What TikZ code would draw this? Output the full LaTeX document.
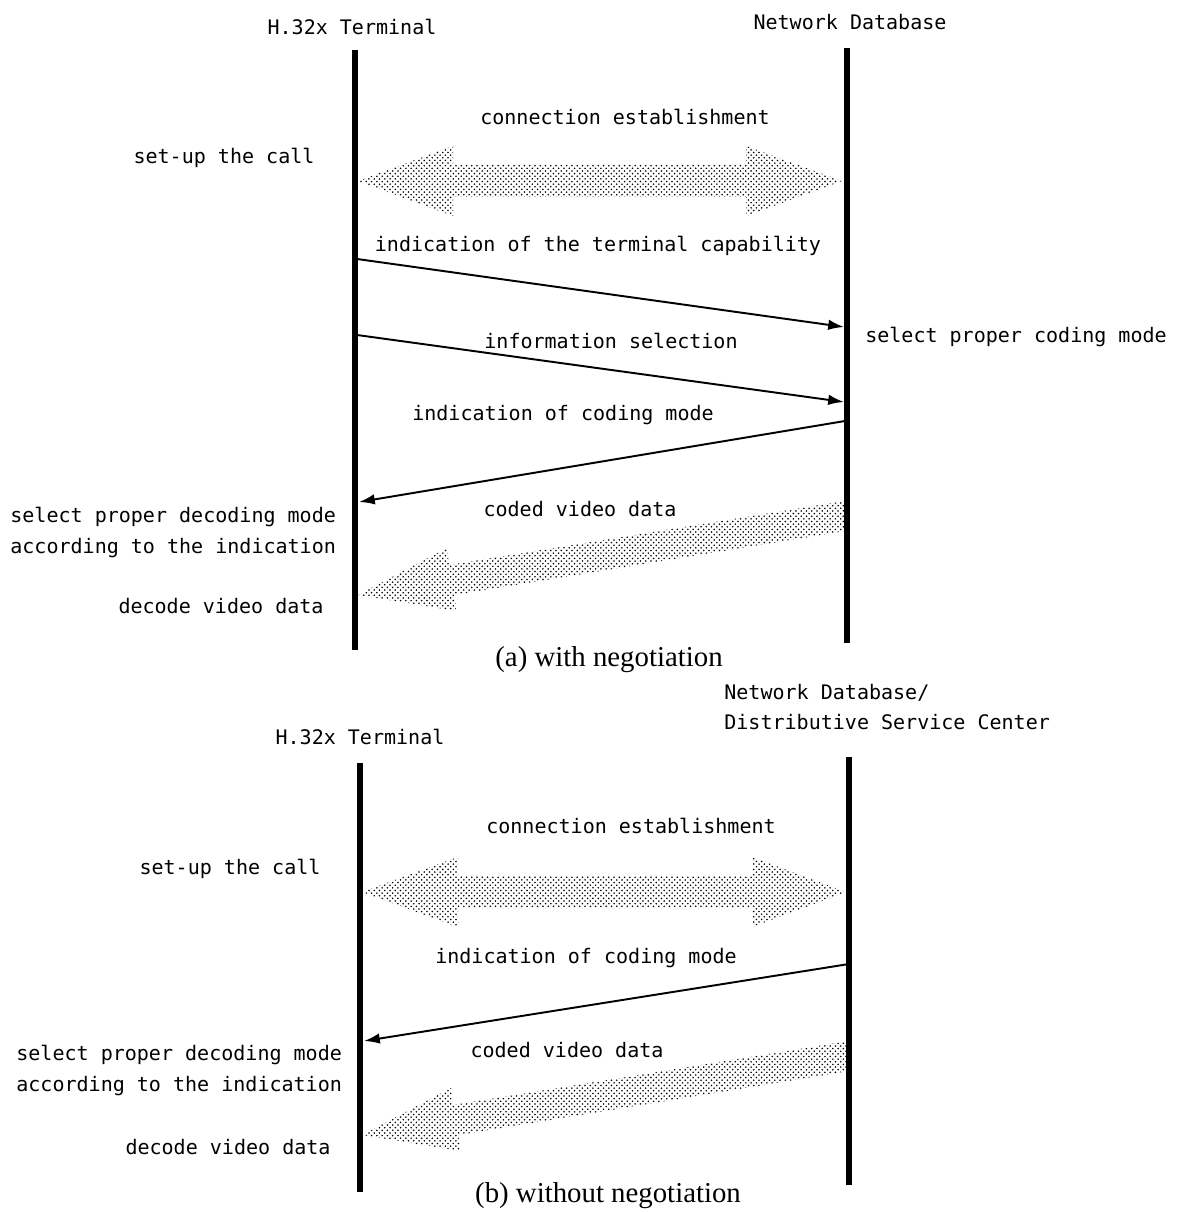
\documentclass[tikz,border=0pt]{standalone}
\usepackage{fontspec}
\setmainfont{Liberation Serif}
\newfontfamily\msgfont{DejaVu Sans Mono}
\usetikzlibrary{arrows.meta,patterns}

\tikzset{
  lifeline/.style={line width=3.4pt},
  msg/.style={line width=1.1pt, -{Latex[length=9pt,width=6pt]}},
  lbl/.style={font=\msgfont\fontsize{11.4}{17.4}\selectfont, inner sep=0pt},
  captext/.style={font=\fontsize{16.4}{19}\selectfont, inner sep=0pt},
  fat/.style={pattern=crosshatch dots, pattern color=black, draw=none}
}

\begin{document}
\begin{tikzpicture}[x=0.02cm, y=-0.02cm] %pixel grid
  \useasboundingbox (0,0) rectangle (1181,1212);

  % (a) with negotiation
  \node[lbl] (termA) at (352,27) {H.32x Terminal};
  \node[lbl] (dbA) at (850,22) {Network Database};
  \coordinate (termAtop) at (355,50);
  \coordinate (termAbot) at (355,650);
  \coordinate (dbAtop) at (847,48);
  \coordinate (dbAbot) at (847,643);
  \draw[lifeline] (termAtop) -- (termAbot);
  \draw[lifeline] (dbAtop) -- (dbAbot);

  \node[lbl] (connA) at (625,117) {connection establishment};
  \node[lbl] (setupA) at (224,158) {set-up the call};
  \fill[fat] (358,181) -- (453,146) -- (453,165) -- (746,165) -- (746,146)
    -- (842,181) -- (746,216) -- (746,197) -- (453,197) -- (453,216) -- cycle;

  \node[lbl] (capA) at (598,246) {indication of the terminal capability};
  \coordinate (capAs) at (357,259);
  \coordinate (capAe) at (844,327);
  \draw[msg] (capAs) -- (capAe);
  \node[lbl] (modeA) at (1016,337) {select proper coding mode};

  \node[lbl] (infoA) at (611,341) {information selection};
  \coordinate (infoAs) at (357,335);
  \coordinate (infoAe) at (844,402);
  \draw[msg] (infoAs) -- (infoAe);

  \node[lbl] (indA) at (563,415) {indication of coding mode};
  \coordinate (indAs) at (845,421);
  \coordinate (indAe) at (359,502);
  \draw[msg] (indAs) -- (indAe);

  \node[lbl, anchor=north west, align=left] (decA) at (10,507)
    {select proper decoding mode\\according to the indication};
  \node[lbl] (codedA) at (580,509) {coded video data};
  \fill[fat] (845,501) -- (449,565) -- (447,548) -- (358,595) -- (457,611)
    -- (454,595) -- (845,531) -- cycle;
  \node[lbl] (videoA) at (221,606) {decode video data};

  \node[captext] (captA) at (609,660) {(a) with negotiation};

  % (b) without negotiation
  \node[lbl, anchor=west, align=left] (dbB) at (724,707)
    {Network Database/\\Distributive Service Center};
  \node[lbl] (termB) at (360,737) {H.32x Terminal};
  \coordinate (termBtop) at (360,763);
  \coordinate (termBbot) at (360,1192);
  \coordinate (dbBtop) at (849,757);
  \coordinate (dbBbot) at (849,1185);
  \draw[lifeline] (termBtop) -- (termBbot);
  \draw[lifeline] (dbBtop) -- (dbBbot);

  \node[lbl] (connB) at (631,826) {connection establishment};
  \node[lbl] (setupB) at (230,869) {set-up the call};
  \fill[fat] (362,892) -- (458,857) -- (458,876) -- (752,876) -- (752,857)
    -- (846,892) -- (752,927) -- (752,908) -- (458,908) -- (458,927) -- cycle;

  \node[lbl] (indB) at (586,958) {indication of coding mode};
  \coordinate (indBs) at (849,964);
  \coordinate (indBe) at (364,1041);
  \draw[msg] (indBs) -- (indBe);

  \node[lbl, anchor=north west, align=left] (decB) at (16,1045)
    {select proper decoding mode\\according to the indication};
  \node[lbl] (codedB) at (567,1050) {coded video data};
  \fill[fat] (849,1041) -- (453,1105) -- (451,1088) -- (362,1135) -- (461,1151)
    -- (458,1135) -- (849,1071) -- cycle;
  \node[lbl] (videoB) at (228,1147) {decode video data};

  \node[captext] (captB) at (608,1196) {(b) without negotiation};
\end{tikzpicture}
\end{document}
